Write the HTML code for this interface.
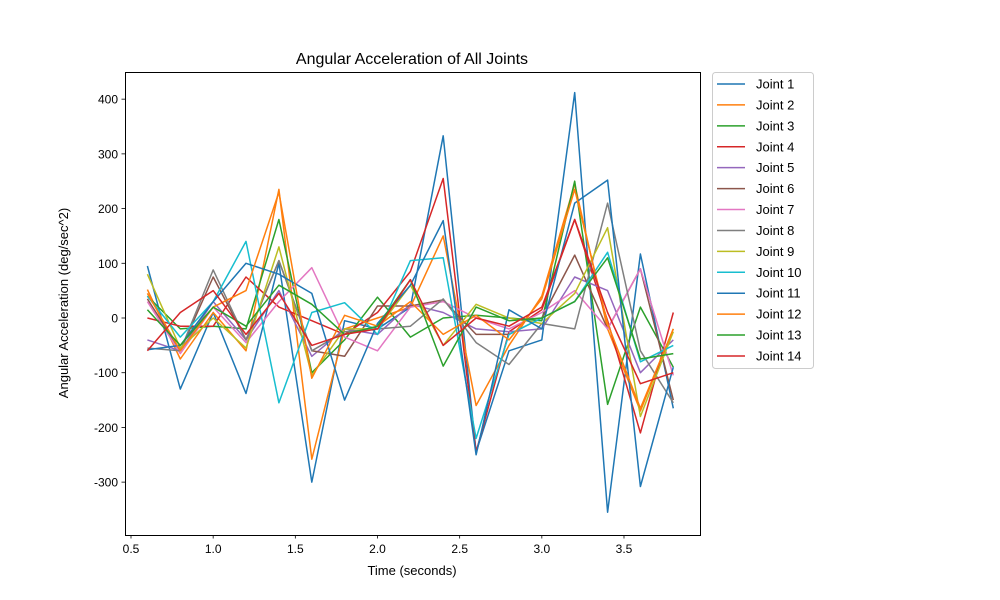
<!DOCTYPE html>
<html><head><meta charset="utf-8"><style>
body{margin:0;background:#fff;}
svg{display:block;font-family:"Liberation Sans","DejaVu Sans",sans-serif;}
</style></head><body>
<svg id="chart" width="1000" height="600" xmlns="http://www.w3.org/2000/svg">
<rect width="1000" height="600" fill="#fff"/>
<text x="412" y="64" font-size="16" text-anchor="middle">Angular Acceleration of All Joints</text>
<g id="plot"></g>
<g id="axes"></g>
<g id="legend"></g>
<text x="412" y="575" font-size="13" text-anchor="middle">Time (seconds)</text>
<text transform="translate(68,303) rotate(-90)" font-size="13" text-anchor="middle">Angular Acceleration (deg/sec^2)</text>
</svg>
<script>
const times=[0.6,0.8,1.0,1.2,1.4,1.6,1.8,2.0,2.2,2.4,2.6,2.8,3.0,3.2,3.4,3.6,3.8];
const seriesNames=["Joint 1","Joint 2","Joint 3","Joint 4","Joint 5","Joint 6","Joint 7","Joint 8","Joint 9","Joint 10","Joint 11","Joint 12","Joint 13","Joint 14"];
const j1=[95,-130,10,-138,100,-300,-5,-20,20,333,-245,-60,-40,412,-355,117,-165];
const j2=[52,-75,10,-60,235,-258,-20,0,20,150,-160,-50,40,245,-20,-170,-20];
const j3=[40,-20,-15,-20,180,-100,-40,38,-35,0,5,0,-5,250,-158,20,-90];
const j4=[0,-15,-15,75,20,-5,-30,10,85,255,-245,-25,15,180,-5,-210,10];
const j5=[-40,-60,30,-40,50,-70,-20,-30,25,10,-20,-25,-20,75,50,-100,-40];
const j6=[35,-60,75,-40,105,-60,-70,22,22,33,-30,-30,0,115,-20,90,-150];
const j7=[30,-65,20,-45,30,92,-35,-60,20,30,0,-20,10,50,-20,90,-105];
const j8=[-55,-60,88,-40,105,-60,-25,-20,-15,35,-45,-85,-10,-20,210,-60,-155];
const j9=[80,-55,0,-55,130,-105,-20,-20,60,-50,25,0,-10,45,165,-180,-25];
const j10=[40,-35,30,140,-155,10,28,-30,105,110,-220,-30,0,30,120,-80,-50];
const j11=[-58,-50,30,100,80,45,-150,-10,60,178,-250,15,-20,210,252,-308,-90];
const j12=[45,-60,20,50,230,-110,5,-15,30,-30,5,-40,35,235,-10,-165,-20];
const j13=[15,-50,20,-15,60,25,-30,-15,70,-88,20,-5,0,30,110,-75,-65];
const j14=[-60,10,50,-30,45,-50,-30,-20,70,-50,0,-15,20,180,10,-120,-100];
const seriesValues=[j1,j2,j3,j4,j5,j6,j7,j8,j9,j10,j11,j12,j13,j14];
const xTicks=[0.5,1.0,1.5,2.0,2.5,3.0,3.5];
const yTicks=[-300,-200,-100,0,100,200,300,400];
const colors=["#1f77b4","#ff7f0e","#2ca02c","#d62728","#9467bd","#8c564b","#e377c2","#7f7f7f","#bcbd22","#17becf"];
const L=125,R=700,T=72,B=535;
const xs=x=>131+(x-0.5)*164.33;
const ys=v=>318-v*0.5471;
const NS="http://www.w3.org/2000/svg";
function mk(tag,attrs,parent){const e=document.createElementNS(NS,tag);for(const k in attrs)e.setAttribute(k,attrs[k]);parent.appendChild(e);return e;}
const plot=document.getElementById('plot'),axes=document.getElementById('axes'),leg=document.getElementById('legend');
seriesValues.forEach((vals,i)=>{
  const p=mk('polyline',{points:vals.map((v,k)=>xs(times[k]).toFixed(1)+','+ys(v).toFixed(1)).join(' '),fill:'none',stroke:colors[i%10],'stroke-width':1.5,'stroke-linejoin':'round'},plot);
  
  
});
const frame=mk('rect',{x:L+0.5,y:T+0.5,width:R-L,height:B-T,fill:'none',stroke:'#000','stroke-width':1},axes);


xTicks.forEach(t=>{
  const x=xs(t);
  mk('line',{x1:x,x2:x,y1:B,y2:B+3.5,stroke:'#000','stroke-width':0.8},axes);
  const tx=mk('text',{x:x,y:B+18,'font-size':12,'text-anchor':'middle'},axes);
  tx.textContent=t.toFixed(1);
  
  
});
yTicks.forEach(t=>{
  const y=ys(t);
  mk('line',{x1:L-3.5,x2:L,y1:y,y2:y,stroke:'#000','stroke-width':0.8},axes);
  const tx=mk('text',{x:L-7,y:y+4.5,'font-size':12,'text-anchor':'end'},axes);
  tx.textContent=t;
  
  
});
const lb=mk('rect',{x:712.5,y:72.5,width:101,height:296,rx:3,fill:'#fff',stroke:'#ccc','stroke-width':1},leg);


seriesNames.forEach((n,i)=>{
  const y=84+i*20.92;
  const g=mk('g',{},leg);
  
  
  mk('line',{x1:717,x2:745,y1:y,y2:y,stroke:colors[i%10],'stroke-width':1.5},g);
  const t=mk('text',{x:756,y:y+4.5,'font-size':13},g);
  t.textContent=n;
});
</script>
</body></html>
